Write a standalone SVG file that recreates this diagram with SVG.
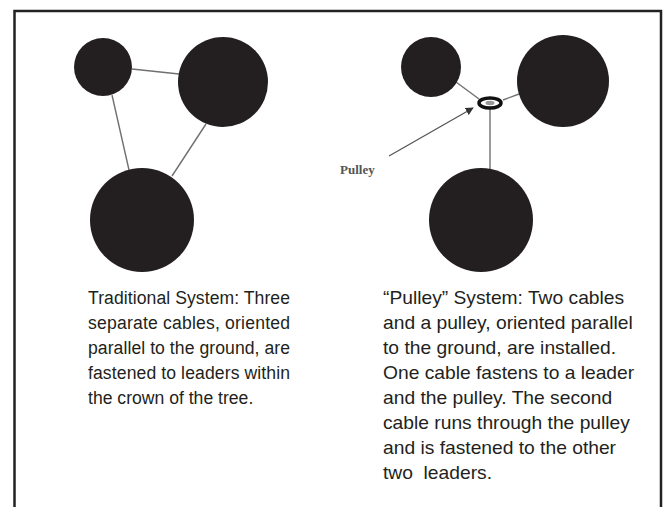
<svg xmlns="http://www.w3.org/2000/svg" width="663" height="507" viewBox="0 0 663 507">
<style>
.leader{fill:#231f20}
.cable{stroke:#707070;stroke-width:1.4;fill:none}
.txt{font-family:"Liberation Sans",Arial,sans-serif;font-size:18.5px;fill:#231f20}
.ltxt{font-family:"Liberation Sans",Arial,sans-serif;font-size:17.6px;fill:#231f20}
.lbl{font-family:"Liberation Serif","Times New Roman",serif;font-size:13px;fill:#555;font-weight:bold}
</style>
<defs>
<marker id="ah" viewBox="0 0 10 10" refX="9" refY="5" markerWidth="8" markerHeight="8" markerUnits="userSpaceOnUse" orient="auto">
<path d="M0,0 L10,5 L0,10 z" fill="#333"/>
</marker>
</defs>
<rect width="663" height="507" fill="#fff"/>
<path id="frame" d="M14.5,507 V11 H661 V507" fill="none" stroke="#222" stroke-width="2.5"/>

<g id="connectors">
<line class="cable" x1="132" y1="69" x2="179" y2="74"/>
<line class="cable" x1="112" y1="95" x2="129" y2="170"/>
<line class="cable" x1="206" y1="124" x2="172" y2="176"/>
<line class="cable" x1="456" y1="82" x2="479" y2="99"/>
<line class="cable" x1="503" y1="100" x2="519" y2="94"/>
<line class="cable" x1="490" y1="109" x2="490" y2="169"/>
<line stroke="#555" stroke-width="1.3" x1="389" y1="156" x2="473" y2="108" marker-end="url(#ah)"/>
</g>

<g id="trad-small"><circle class="leader" cx="103" cy="67" r="29"/></g>
<g id="trad-right"><circle class="leader" cx="223" cy="82" r="45"/></g>
<g id="trad-bottom"><circle class="leader" cx="142" cy="220" r="52"/></g>

<g id="pul-small"><circle class="leader" cx="431" cy="67" r="30"/></g>
<g id="pul-right"><circle class="leader" cx="563" cy="81" r="46"/></g>
<g id="pul-bottom"><circle class="leader" cx="481" cy="220" r="52"/></g>
<g id="pulley">
<ellipse cx="490" cy="103" rx="11" ry="5" fill="#fff" stroke="#111" stroke-width="3.5"/>
<ellipse cx="490" cy="103" rx="4.5" ry="2.2" fill="#999"/>
</g>
<g id="pulley-label"><text class="lbl" x="340" y="174">Pulley</text></g>

<g id="trad-text">
<text class="ltxt" x="88" y="304" textLength="202" lengthAdjust="spacing">Traditional System: Three</text>
<text class="ltxt" x="88" y="329" textLength="202" lengthAdjust="spacing">separate  cables,  oriented</text>
<text class="ltxt" x="88" y="354" textLength="202" lengthAdjust="spacing">parallel to the ground, are</text>
<text class="ltxt" x="88" y="379" textLength="202" lengthAdjust="spacing">fastened to leaders within</text>
<text class="ltxt" x="88" y="404">the crown of the tree.</text>
</g>

<g id="pul-text" transform="translate(383,0) scale(1.04,1)">
<text class="txt" x="0" y="304">“Pulley” System: Two cables</text>
<text class="txt" x="0" y="329">and a pulley, oriented parallel</text>
<text class="txt" x="0" y="354">to the ground, are installed.</text>
<text class="txt" x="0" y="379">One cable fastens to a leader</text>
<text class="txt" x="0" y="404">and the pulley. The second</text>
<text class="txt" x="0" y="429">cable runs through the pulley</text>
<text class="txt" x="0" y="454">and is fastened to the other</text>
<text class="txt" x="0" y="479" xml:space="preserve">two  leaders.</text>
</g>
</svg>
